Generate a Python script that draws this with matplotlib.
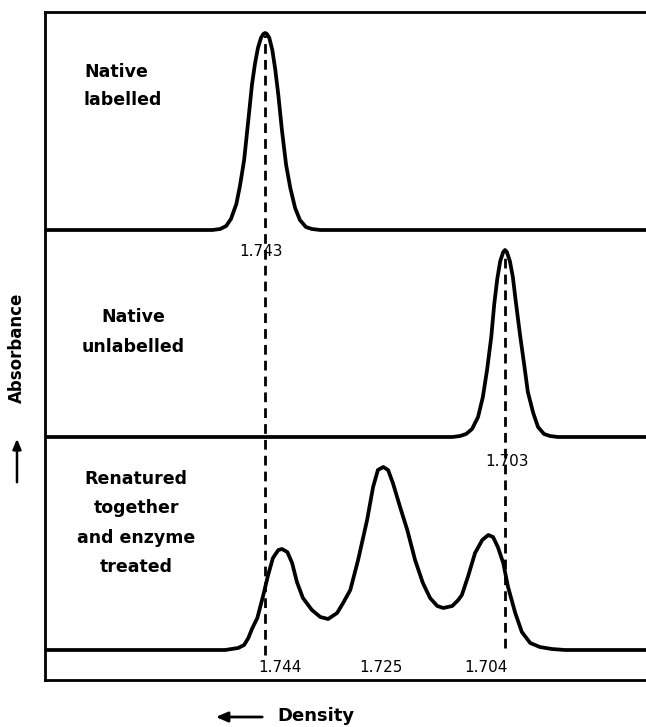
import numpy as np
import matplotlib
matplotlib.use("Agg")
import matplotlib.pyplot as plt

# traced profiles: density (g/ml) vs absorbance (arbitrary, above each baseline)
top_density = [1.7797, 1.7518, 1.7505, 1.7495, 1.7487, 1.7478, 1.7472, 1.7465, 1.7458,
               1.7452, 1.7447, 1.7442, 1.7437, 1.7433, 1.7430, 1.7427, 1.7423, 1.7418,
               1.7413, 1.7408, 1.7402, 1.7395, 1.7388, 1.7380, 1.7372, 1.7362, 1.7352,
               1.7338, 1.6795]
top_abs = [0, 0, 1, 4, 11, 26, 44, 70, 110, 145, 166, 182, 192, 196, 197, 196, 192, 180,
           160, 135, 100, 65, 42, 22, 10, 3, 1, 0, 0]

mid_density = [1.7797, 1.7118, 1.7105, 1.7095, 1.7085, 1.7075, 1.7067, 1.7060, 1.7053,
               1.7048, 1.7043, 1.7038, 1.7033, 1.7030, 1.7027, 1.7022, 1.7017, 1.7012,
               1.7005, 1.6998, 1.6992, 1.6983, 1.6975, 1.6965, 1.6955, 1.6942, 1.6795]
mid_abs = [0, 0, 1, 3, 8, 20, 40, 67, 100, 133, 158, 176, 185, 187, 185, 176, 160, 135,
           102, 72, 45, 24, 10, 3, 1, 0, 0]

bot_density = [1.7797, 1.7497, 1.7475, 1.7465, 1.7458, 1.7452, 1.7443, 1.7433, 1.7425,
               1.7417, 1.7408, 1.7402, 1.7393, 1.7385, 1.7377, 1.7367, 1.7352, 1.7338,
               1.7325, 1.7310, 1.7300, 1.7288, 1.7275, 1.7260, 1.7250, 1.7242, 1.7233,
               1.7225, 1.7217, 1.7205, 1.7193, 1.7180, 1.7167, 1.7155, 1.7143, 1.7133,
               1.7118, 1.7108, 1.7102, 1.7092, 1.7080, 1.7068, 1.7058, 1.7050, 1.7042,
               1.7033, 1.7025, 1.7013, 1.7002, 1.6988, 1.6972, 1.6952, 1.6930, 1.6795]
bot_abs = [0, 0, 2, 5, 12, 21, 32, 55, 75, 92, 100, 101, 98, 87, 68, 52, 40, 33, 31, 37,
           47, 60, 90, 130, 163, 180, 183, 180, 167, 143, 120, 90, 67, 52, 44, 42, 44, 50,
           55, 73, 97, 110, 115, 113, 103, 87, 63, 37, 18, 7, 3, 1, 0, 0]

panel_names = ["Native\nlabelled", "Native\nunlabelled",
               "Renatured\ntogether\nand enzyme\ntreated"]
top_labels = ["1.743"]
mid_labels = ["1.703"]
bot_labels = ["1.744", "1.725", "1.704"]
ref_lines = [1.743, 1.703]

fig = plt.figure(figsize=(6.46, 7.27), dpi=100)
ax = fig.add_axes([45/646, 47/727, 601/646, 668/727])

base = [450, 243, 30]
lw = 2.7
for xs, ys, b in [(top_density, top_abs, base[0]), (mid_density, mid_abs, base[1]),
                  (bot_density, bot_abs, base[2])]:
    ax.plot(xs, np.array(ys) + b, color="black", lw=lw,
            solid_joinstyle="round", solid_capstyle="round")

# dashed reference lines through the native peaks
ax.vlines(ref_lines[0], 25, base[0] + max(top_abs) - 2, colors="black", lw=2.0,
          linestyles=(0, (3.5, 2.2)))
ax.vlines(ref_lines[1], 32, base[1] + max(mid_abs) - 2, colors="black", lw=2.0,
          linestyles=(0, (3.5, 2.2)))

numfont = dict(fontsize=11, ha="center", va="center", family="DejaVu Sans")

def peak_x(xs, ys, lo, hi):
    xs = np.array(xs); ys = np.array(ys)
    m = (xs <= hi) & (xs >= lo)
    return xs[m][np.argmax(ys[m])]

ax.text(peak_x(top_density, top_abs, 1.70, 1.76) + 0.0006, base[0] - 22, top_labels[0], **numfont)
ax.text(peak_x(mid_density, mid_abs, 1.69, 1.72) - 0.0003, base[1] - 24, mid_labels[0], **numfont)
bot_ranges = [(1.735, 1.748), (1.715, 1.730), (1.700, 1.712)]
for lab, (lo, hi) in zip(bot_labels, bot_ranges):
    ax.text(peak_x(bot_density, bot_abs, lo, hi) + 0.0004, base[2] - 17, lab, **numfont)

namefont = dict(fontsize=12.5, fontweight="bold", family="DejaVu Sans", va="center")
ax.text(1.7732, 594, panel_names[0], ha="left", linespacing=1.75, **namefont)
ax.text(1.7650, 348, panel_names[1], ha="center", linespacing=1.8, **namefont)
ax.text(1.7645, 157, panel_names[2], ha="center", linespacing=1.8, **namefont)

ax.set_xlim(1.7797, 1.6795)
ax.set_ylim(0, 668)
ax.set_xticks([])
ax.set_yticks([])
ax.spines["right"].set_visible(False)
for s in ["left", "top", "bottom"]:
    ax.spines[s].set_linewidth(2.0)

fig.text(17/646, 1 - 348/727, "Absorbance", rotation=90, ha="center", va="center",
         fontsize=12, fontweight="bold")
fig.add_artist(matplotlib.patches.FancyArrowPatch(
    (17/646, 1 - 485/727), (17/646, 1 - 436/727), transform=fig.transFigure,
    arrowstyle="-|>,head_length=6,head_width=2.5", lw=1.8, color="black"))
fig.text(316/646, 1 - 716/727, "Density", ha="center", va="center",
         fontsize=13, fontweight="bold")
fig.add_artist(matplotlib.patches.FancyArrowPatch(
    (265/646, 1 - 717/727), (213/646, 1 - 717/727), transform=fig.transFigure,
    arrowstyle="-|>,head_length=7,head_width=3", lw=2.0, color="black"))

fig.savefig("out.png", dpi=100)
